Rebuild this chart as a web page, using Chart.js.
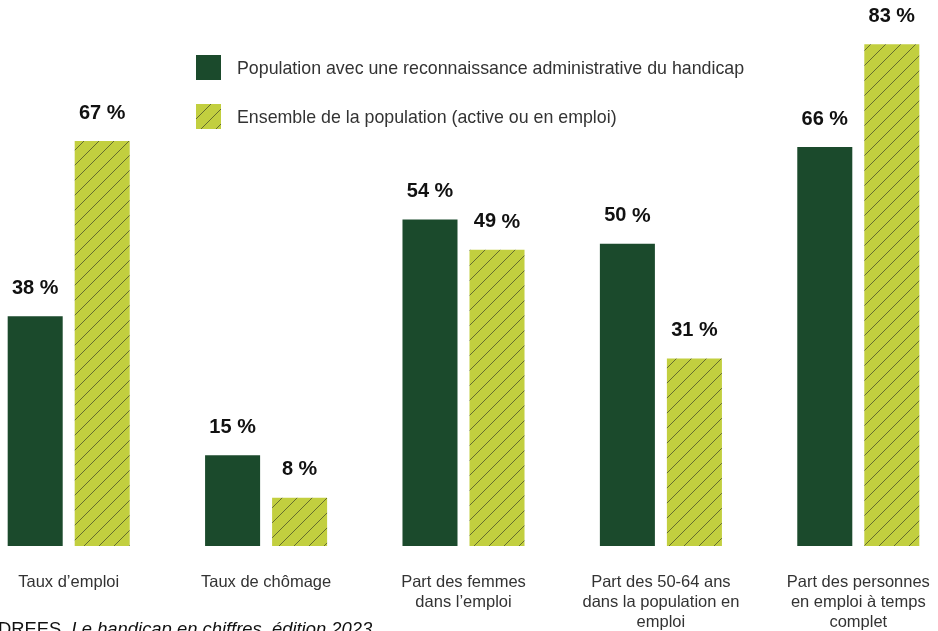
<!DOCTYPE html>
<html lang="fr">
<head>
    <meta charset="UTF-8">
    <title>Handicap et emploi</title>
    <script src="https://cdn.jsdelivr.net/npm/chart.js"></script>
    <style>
        body {
            margin: 0;
            background: #fff;
            overflow: hidden;
            width: 938px;
            height: 631px;
            position: relative;
        }
        #chart {
            position: absolute;
            left: -30px;
            top: 0;
        }
    </style>
</head>
<body>
    <canvas id="chart" width="987" height="631"></canvas>

    <script>
        const categories = [
            ["Taux d\u2019emploi"],
            ["Taux de ch\u00f4mage"],
            ["Part des femmes", "dans l\u2019emploi"],
            ["Part des 50-64 ans", "dans la population en", "emploi"],
            ["Part des personnes", "en emploi \u00e0 temps", "complet"]
        ];
        const handicapValues = [38, 15, 54, 50, 66];
        const ensembleValues = [67, 8, 49, 31, 83];
        const seriesNames = [
            "Population avec une reconnaissance administrative du handicap",
            "Ensemble de la population (active ou en emploi)"
        ];
        const sourceNote = ["DREES, ", "Le handicap en chiffres, \u00e9dition 2023"];

        const DARK = '#1b4a2c';
        const LIGHT = '#c2cf3f';

        // hatched fill for the second series
        function makeHatch() {
            const c = document.createElement('canvas');
            c.width = 15;
            c.height = 15;
            const g = c.getContext('2d');
            g.fillStyle = LIGHT;
            g.fillRect(0, 0, 15, 15);
            g.strokeStyle = 'rgba(60, 65, 40, 0.7)';
            g.lineWidth = 1;
            g.beginPath();
            g.moveTo(-1, 16); g.lineTo(16, -1);
            g.moveTo(-1, 1); g.lineTo(1, -1);
            g.moveTo(14, 16); g.lineTo(16, 14);
            g.stroke();
            return g.createPattern(c, 'repeat');
        }
        const hatch = makeHatch();

        const valueLabels = {
            id: 'valueLabels',
            afterDatasetsDraw(chart) {
                const ctx = chart.ctx;
                ctx.save();
                ctx.fillStyle = '#111';
                ctx.textBaseline = 'middle';
                chart.data.datasets.forEach((ds, i) => {
                    chart.getDatasetMeta(i).data.forEach((bar, j) => {
                        // number and a slightly wider percent sign, centred together
                        ctx.font = 'bold 20px "Liberation Sans", Arial, sans-serif';
                        const num = ds.data[j] + ' ';
                        const wNum = ctx.measureText(num).width;
                        ctx.font = 'bold 21px "Liberation Sans", Arial, sans-serif';
                        const wPct = ctx.measureText('%').width;
                        let x = bar.x - (wNum + wPct) / 2;
                        ctx.textAlign = 'left';
                        ctx.font = 'bold 20px "Liberation Sans", Arial, sans-serif';
                        ctx.fillText(num, x, bar.y - 28);
                        ctx.font = 'bold 21px "Liberation Sans", Arial, sans-serif';
                        ctx.fillText('%', x + wNum, bar.y - 28);
                    });
                });
                ctx.restore();
            }
        };

        const legendAndSource = {
            id: 'legendAndSource',
            afterDraw(chart) {
                const ctx = chart.ctx;
                ctx.save();
                const fills = [DARK, hatch];
                const rows = [55, 104];
                rows.forEach((y, i) => {
                    ctx.fillStyle = fills[i];
                    ctx.fillRect(226, y, 25, 25);
                    ctx.fillStyle = '#333';
                    ctx.font = '17.8px "Liberation Sans", Arial, sans-serif';
                    ctx.textAlign = 'left';
                    ctx.textBaseline = 'middle';
                    ctx.fillText(chart.data.datasets[i].label, 267, y + 14);
                });

                ctx.fillStyle = '#111';
                ctx.textBaseline = 'alphabetic';
                ctx.font = '18.4px "Liberation Sans", Arial, sans-serif';
                let x = 28;
                ctx.fillText(sourceNote[0], x, 635);
                x += ctx.measureText(sourceNote[0]).width;
                ctx.font = 'italic 18.4px "Liberation Sans", Arial, sans-serif';
                ctx.fillText(sourceNote[1], x, 635);
                ctx.restore();
            }
        };

        new Chart(document.getElementById('chart').getContext('2d'), {
            type: 'bar',
            data: {
                labels: categories,
                datasets: [
                    {
                        label: seriesNames[0],
                        data: handicapValues,
                        backgroundColor: DARK,
                        categoryPercentage: 0.679,
                        barPercentage: 0.821
                    },
                    {
                        label: seriesNames[1],
                        data: ensembleValues,
                        backgroundColor: hatch,
                        categoryPercentage: 0.679,
                        barPercentage: 0.821
                    }
                ]
            },
            options: {
                responsive: false,
                animation: false,
                layout: { padding: { top: 2, left: 0, right: 0, bottom: 0 } },
                plugins: {
                    legend: { display: false },
                    tooltip: { enabled: false }
                },
                scales: {
                    x: {
                        grid: { display: false },
                        border: { display: false },
                        ticks: {
                            color: '#333',
                            padding: 18,
                            maxRotation: 0,
                            autoSkip: false,
                            font: { family: '"Liberation Sans", Arial, sans-serif', size: 16.5, lineHeight: 1.212 }
                        },
                        afterFit(scale) { scale.height = 85; }
                    },
                    y: {
                        display: false,
                        min: 0,
                        max: 90
                    }
                }
            },
            plugins: [valueLabels, legendAndSource]
        });
    </script>
</body>
</html>
